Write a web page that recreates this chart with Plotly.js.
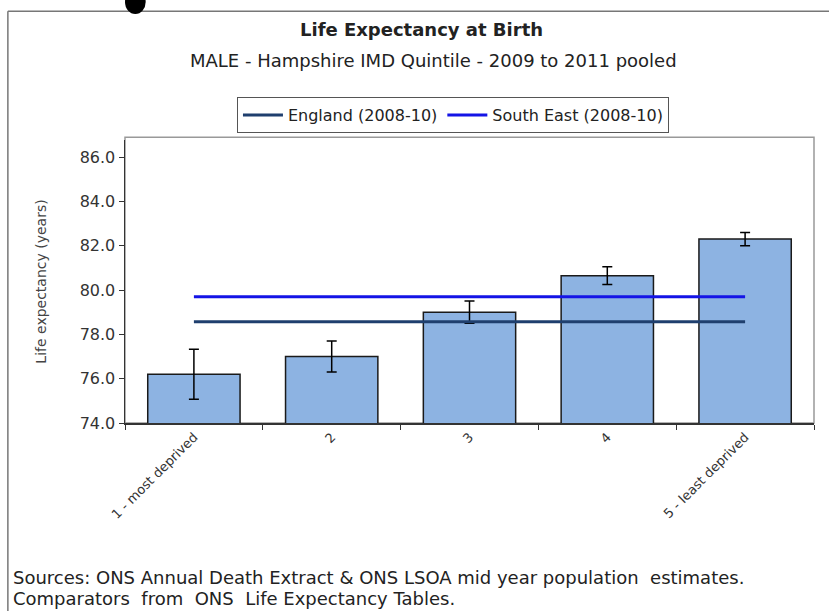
<!DOCTYPE html>
<html><head><meta charset="utf-8">
<script src="https://cdn.plot.ly/plotly-3.0.1.min.js"></script>
<style>html,body{margin:0;padding:0;background:#fff}#chart{width:829px;height:611px}</style>
</head><body><div id="chart"></div>
<script>
const categories = ["1 - most deprived", "2", "3", "4", "5 - least deprived"];
const lifeExpectancy = [76.2, 77.0, 79.0, 80.65, 82.3];
const ciError = [1.13, 0.7, 0.5, 0.4, 0.3];
const englandValue = 78.57;
const southEastValue = 79.7;
const englandLine = categories.map(() => englandValue);
const southEastLine = categories.map(() => southEastValue);
const yTicks = [74, 76, 78, 80, 82, 84, 86];

const font = "DejaVu Sans, Arial, sans-serif";
const traces = [
  {type: "bar", x: categories, y: lifeExpectancy, showlegend: false,
   marker: {color: "#8DB3E2", line: {color: "#1a1a1a", width: 1.5}},
   error_y: {type: "data", array: ciError, visible: true, color: "#000", thickness: 1.5, width: 5}},
  {type: "scatter", mode: "lines", x: categories, y: englandLine, name: "England (2008-10)",
   line: {color: "#1F3F6E", width: 3}},
  {type: "scatter", mode: "lines", x: categories, y: southEastLine, name: "South East (2008-10)",
   line: {color: "#1414E6", width: 3}}
];
const layout = {
  width: 829, height: 611,
  margin: {l: 125, r: 15, t: 140, b: 188},
  paper_bgcolor: "#fff", plot_bgcolor: "#fff",
  font: {family: font, color: "#333"},
  bargap: 0.33,
  showlegend: true,
  legend: {orientation: "h", x: 0.476, xanchor: "center", y: 1.152, yanchor: "top",
           bordercolor: "#555", borderwidth: 1, font: {size: 16, color: "#222"}, bgcolor: "#fff",
           itemwidth: 40, tracegroupgap: 0},
  xaxis: {type: "category", showline: true, linecolor: "#333", linewidth: 1.5, ticks: "outside",
          tickson: "boundaries", ticklen: 5, tickcolor: "#333", tickangle: -45,
          tickfont: {size: 13, color: "#333"}, showgrid: false, zeroline: false},
  yaxis: {range: [74, 86.77], tickvals: yTicks, ticktext: yTicks.map(v => v.toFixed(1)),
          showline: true, linecolor: "#333", linewidth: 1.5, ticks: "outside", ticklen: 5,
          tickfont: {size: 16, color: "#333"}, tickcolor: "#333", showgrid: false, zeroline: false,
          title: {text: "Life expectancy (years)", font: {size: 14, color: "#444"}, standoff: 30}},
  annotations: [
    {xref: "paper", yref: "paper", x: 0.431, y: 1.39, xanchor: "center", yanchor: "middle",
     text: "<b>Life Expectancy at Birth</b>", showarrow: false, font: {size: 18, color: "#222"}},
    {xref: "paper", yref: "paper", x: 0.448, y: 1.28, xanchor: "center", yanchor: "middle",
     text: "MALE - Hampshire IMD Quintile - 2009 to 2011 pooled", showarrow: false, font: {size: 18, color: "#222"}},
    {xref: "paper", yref: "paper", x: -0.165, y: -0.545, xanchor: "left", yanchor: "middle", align: "left",
     text: "Sources: ONS Annual Death Extract & ONS LSOA mid year population  estimates.", showarrow: false, font: {size: 18, color: "#222"}},
    {xref: "paper", yref: "paper", x: -0.165, y: -0.62, xanchor: "left", yanchor: "middle", align: "left",
     text: "Comparators  from  ONS  Life Expectancy Tables.", showarrow: false, font: {size: 18, color: "#222"}}
  ],
  shapes: [
    {type: "rect", xref: "paper", yref: "paper", x0: 0, x1: 1, y0: 0, y1: 1.01, line: {color: "#999", width: 1.5}, layer: "below"},
    {type: "line", xref: "paper", yref: "paper", x0: -0.17, x1: 1.03, y0: 1.455, y1: 1.455, line: {color: "#777", width: 1.5}},
    {type: "line", xref: "paper", yref: "paper", x0: -0.17, x1: -0.17, y0: 1.455, y1: -0.67, line: {color: "#777", width: 1.5}},
    {type: "circle", xref: "paper", yref: "paper", x0: 0.0, x1: 0.03, y0: 1.445, y1: 1.53, fillcolor: "#000", line: {width: 0}}
  ]
};
Plotly.newPlot("chart", traces, layout, {displayModeBar: false, staticPlot: true});
</script></body></html>
